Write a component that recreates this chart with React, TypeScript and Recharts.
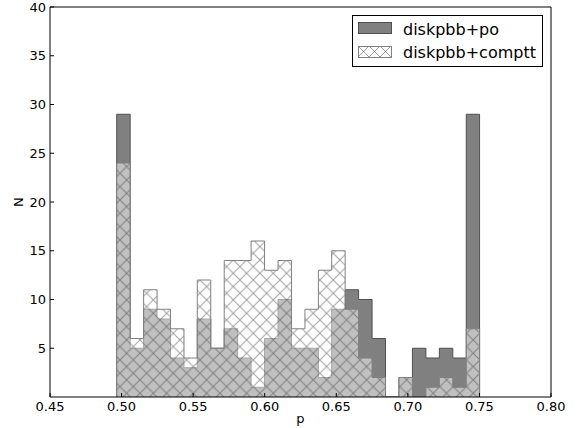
import React from 'react';
import { AreaChart, Area, XAxis, YAxis, Customized } from 'recharts';

// Histogram bin edges (28 edges -> 27 bins)
const binEdges = [
  0.4966, 0.506, 0.5154, 0.5248, 0.5342, 0.5436, 0.5529, 0.5623, 0.5717, 0.5811,
  0.5905, 0.5999, 0.6093, 0.6187, 0.6281, 0.6375, 0.6468, 0.6562, 0.6656, 0.675,
  0.6844, 0.6938, 0.7032, 0.7126, 0.722, 0.7314, 0.7408, 0.7501,
];

// Counts per bin
const diskpbbPo = [29, 5, 9, 8, 4, 3, 8, 5, 7, 4, 1, 6, 10, 5, 5, 2, 9, 11, 10, 6, 0, 2, 5, 4, 5, 4, 29];
const diskpbbComptt = [24, 6, 11, 9, 7, 4, 12, 5, 14, 14, 16, 13, 14, 7, 9, 13, 15, 9, 4, 2, 0, 2, 0, 1, 2, 1, 7];

const xTicks = [0.45, 0.5, 0.55, 0.6, 0.65, 0.7, 0.75, 0.8];
const yTicks = [5, 10, 15, 20, 25, 30, 35, 40];

const seriesNames = ['diskpbb+po', 'diskpbb+comptt'];

function buildRows() {
  const rows: { x: number; po: number; ct: number }[] = [];
  rows.push({ x: binEdges[0], po: 0, ct: 0 });
  for (let i = 0; i < diskpbbPo.length; i++) {
    rows.push({ x: binEdges[i], po: diskpbbPo[i], ct: diskpbbComptt[i] });
  }
  rows.push({ x: binEdges[binEdges.length - 1], po: 0, ct: 0 });
  return rows;
}

const FONT = '"DejaVu Sans", sans-serif';
const HATCH = 13.33;

function AxisTitles() {
  return (
    <g>
      <text x={300.5} y={423} textAnchor="middle" fontSize={13} fontFamily={FONT} fill="#000">
        p
      </text>
      <text
        x={18}
        y={202}
        textAnchor="middle"
        dominantBaseline="central"
        fontSize={13}
        fontFamily={FONT}
        fill="#000"
        transform="rotate(-90, 18, 202)"
      >
        N
      </text>
    </g>
  );
}

export default function App() {
  const data = buildRows();
  return (
    <div
      style={{
        position: 'absolute',
        left: 0,
        top: 0,
        width: 581,
        height: 428,
        background: '#fff',
        fontFamily: FONT,
      }}
    >
      <AreaChart width={581} height={428} data={data} margin={{ top: 0, right: 0, bottom: 0, left: 0 }}>
        <defs>
          <pattern id="hatchX" patternUnits="userSpaceOnUse" width={HATCH} height={HATCH}>
            <rect width={HATCH} height={HATCH} fill="#ffffff" fillOpacity={0.5} />
            <path
              d={`M0,0 L${HATCH},${HATCH} M0,${HATCH} L${HATCH},0`}
              stroke="#404040"
              strokeOpacity={0.5}
              strokeWidth={1}
            />
          </pattern>
        </defs>
        <XAxis
          xAxisId="b"
          dataKey="x"
          type="number"
          domain={[0.45, 0.8]}
          ticks={xTicks}
          interval={0}
          allowDataOverflow
          height={31}
          tickSize={-4}
          tickMargin={9}
          stroke="#000"
          tick={{ fill: '#000', fontSize: 13, fontFamily: FONT }}
          tickFormatter={(v: number) => v.toFixed(2)}
        />
        <XAxis
          xAxisId="t"
          orientation="top"
          type="number"
          domain={[0.45, 0.8]}
          ticks={xTicks}
          interval={0}
          allowDataOverflow
          height={7}
          tickSize={-4}
          stroke="#000"
          tick={false}
        />
        <YAxis
          yAxisId="l"
          type="number"
          domain={[0, 40]}
          ticks={yTicks}
          interval={0}
          allowDataOverflow
          width={50}
          tickSize={-4}
          tickMargin={8}
          stroke="#000"
          tick={{ fill: '#000', fontSize: 13, fontFamily: FONT }}
        />
        <YAxis
          yAxisId="r"
          orientation="right"
          type="number"
          domain={[0, 40]}
          ticks={yTicks}
          interval={0}
          allowDataOverflow
          width={30}
          tickSize={-4}
          stroke="#000"
          tick={false}
        />
        <Area
          xAxisId="b"
          yAxisId="l"
          type="stepAfter"
          dataKey="po"
          name={seriesNames[0]}
          fill="#808080"
          fillOpacity={1}
          stroke="#505050"
          strokeWidth={1}
          dot={false}
          activeDot={false}
          isAnimationActive={false}
        />
        <Area
          xAxisId="b"
          yAxisId="l"
          type="stepAfter"
          dataKey="ct"
          name={seriesNames[1]}
          fill="url(#hatchX)"
          fillOpacity={1}
          stroke="#808080"
          strokeWidth={1}
          dot={false}
          activeDot={false}
          isAnimationActive={false}
        />
        <Customized component={AxisTitles} />
      </AreaChart>
      <div
        style={{
          position: 'absolute',
          left: 352,
          top: 15,
          width: 191,
          height: 52,
          boxSizing: 'border-box',
          border: '1px solid #000',
          background: '#fff',
          fontSize: 16,
          color: '#000',
        }}
      >
        <svg style={{ position: 'absolute', left: 5, top: 6 }} width={34} height={12}>
          <rect x={0.5} y={0.5} width={33} height={11} fill="#808080" stroke="#505050" />
        </svg>
        <div style={{ position: 'absolute', left: 50, top: 4, lineHeight: '20px', whiteSpace: 'nowrap' }}>
          {seriesNames[0]}
        </div>
        <svg style={{ position: 'absolute', left: 5, top: 30 }} width={34} height={12}>
          <defs>
            <pattern id="hatchLeg" patternUnits="userSpaceOnUse" width={11} height={11}>
              <path d="M0,0 L11,11 M0,11 L11,0" stroke="#404040" strokeOpacity={0.5} strokeWidth={1} />
            </pattern>
          </defs>
          <rect x={0.5} y={0.5} width={33} height={11} fill="#fff" />
          <rect x={0.5} y={0.5} width={33} height={11} fill="url(#hatchLeg)" stroke="#808080" />
        </svg>
        <div style={{ position: 'absolute', left: 50, top: 27, lineHeight: '20px', whiteSpace: 'nowrap' }}>
          {seriesNames[1]}
        </div>
      </div>
    </div>
  );
}
